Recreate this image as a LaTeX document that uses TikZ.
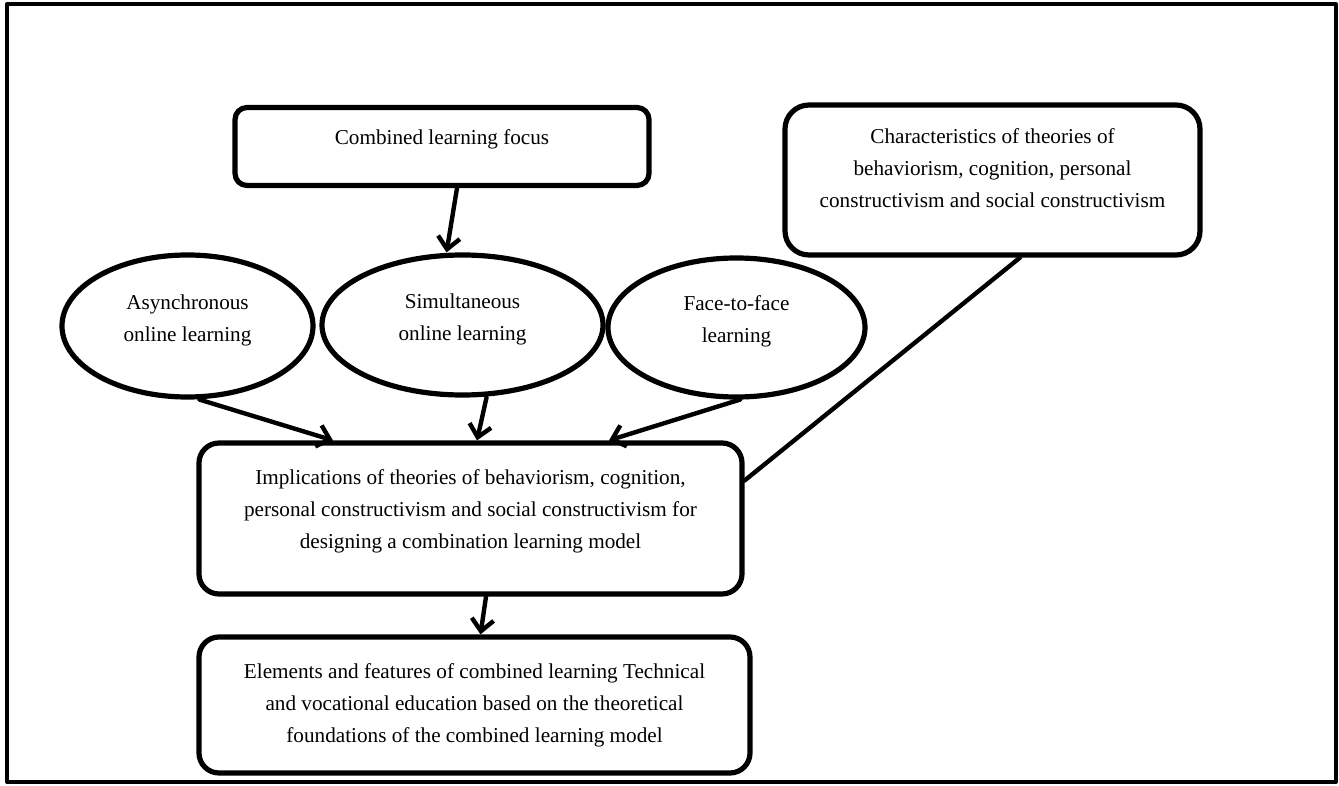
\documentclass[tikz,border=0pt]{standalone}
\usepackage{fontspec}
\setmainfont{Liberation Serif}
\usetikzlibrary{shapes.geometric,arrows.meta}
\tikzset{
  box/.style={draw, line width=2.6pt, rounded corners=#1, align=center, inner sep=0pt},
  oval/.style={draw, ellipse, line width=2.6pt, align=center, inner sep=0pt, text depth=8pt},
  conn/.style={line width=2.2pt, line cap=round}
}
\begin{document}
\begin{tikzpicture}[x=0.5pt, y=-0.5pt, font=\fontsize{10.6}{16}\selectfont, line join=round, >={Straight Barb[length=6pt,width=11pt]}]
\useasboundingbox (0,0) rectangle (1339,786);
\draw[line width=2pt] (7,4) rectangle (1336,782);
\node[box=6pt, minimum width=207pt, minimum height=39pt, text depth=9pt] (focus) at (442,146.5) {Combined learning focus};
\node[box=12pt, minimum width=207.5pt, minimum height=75pt, text depth=12pt] (charac) at (992.5,180) {Characteristics of theories of\\behaviorism, cognition, personal\\constructivism and social constructivism};
\node[oval, minimum width=125.5pt, minimum height=71pt] (async) at (187.5,326) {Asynchronous\\online learning};
\node[oval, minimum width=140.5pt, minimum height=70pt] (simul) at (462.5,325) {Simultaneous\\online learning};
\node[oval, minimum width=128.5pt, minimum height=69.5pt] (face) at (736.5,327.5) {Face-to-face\\learning};
\node[box=10pt, minimum width=271.5pt, minimum height=75.5pt, text depth=9pt] (implic) at (470.5,518.5) {Implications of theories of behaviorism, cognition,\\personal constructivism and social constructivism for\\designing a combination learning model};
\node[box=10pt, minimum width=275.5pt, minimum height=68pt] (elem) at (474.5,705) {Elements and features of combined learning Technical\\and vocational education based on the theoretical\\foundations of the combined learning model};
\draw[conn,->] ([xshift=7.5pt]focus.south) -- ([xshift=-8pt]simul.north);
\draw[conn,->] ([xshift=6pt]async.south) -- ([xshift=-68.75pt]implic.north);
\draw[conn,->] ([xshift=12pt]simul.south) -- ([xshift=3.25pt]implic.north);
\draw[conn,->] ([xshift=1.75pt]face.south) -- ([xshift=69.25pt]implic.north);
\draw[conn] ([xshift=13.75pt]charac.south) -- ([yshift=19pt]implic.east);
\draw[conn,->] ([xshift=7.75pt]implic.south) -- ([xshift=3pt]elem.north);
\end{tikzpicture}
\end{document}
